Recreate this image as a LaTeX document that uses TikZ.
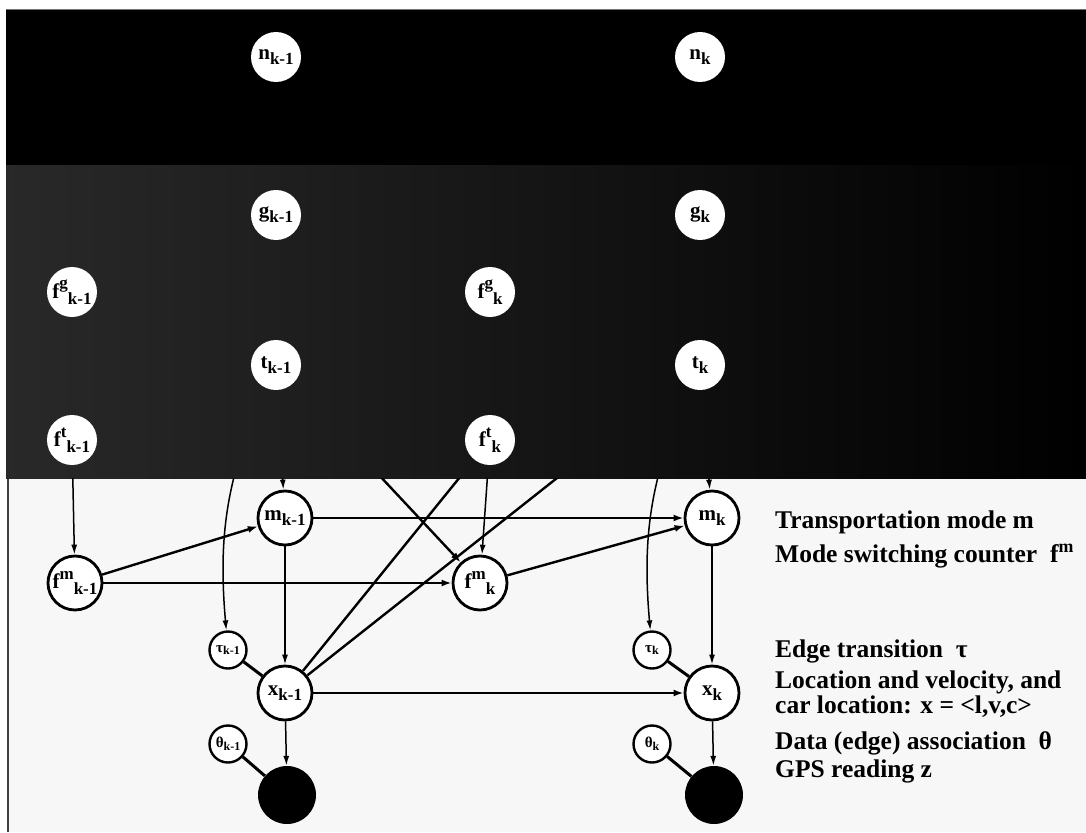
\documentclass[tikz,border=0pt]{standalone}
\usepackage{fontspec}
\setmainfont{Liberation Serif}
\usetikzlibrary{arrows.meta}
% variable labels: letter with subscript, and counter f with super- and subscript
\newcommand{\nlab}[2]{#1\raisebox{-0.5ex}{\fontsize{17}{17}\selectfont #2}}
\newcommand{\fflab}[2]{f\raisebox{1.0ex}{\fontsize{17}{17}\selectfont #1}\raisebox{-0.6ex}{\fontsize{17}{17}\selectfont #2}}
\newcommand{\snlab}[2]{#1\raisebox{-0.4ex}{\fontsize{12}{12}\selectfont #2}}
\begin{document}
\begin{tikzpicture}[x=1pt,y=-1pt,
  topvar/.style={circle,fill=white,minimum size=50pt,inner sep=0pt,font=\fontsize{21}{21}\selectfont\bfseries},
  var/.style={circle,draw=black,line width=2.8pt,fill=white,minimum size=54pt,inner sep=0pt,font=\fontsize{21}{21}\selectfont\bfseries},
  aux/.style={circle,draw=black,line width=2.4pt,fill=white,minimum size=37pt,inner sep=0pt,font=\fontsize{15}{15}\selectfont\bfseries},
  obs/.style={circle,fill=black,minimum size=58pt,inner sep=0pt},
  arr/.style={line width=2.4pt,-{Latex[length=10pt,width=7pt]}},
  thinarr/.style={line width=1.5pt,-{Latex[length=10pt,width=6pt]}},
  tie/.style={line width=3pt},
  legend/.style={anchor=base west,inner sep=0pt,font=\fontsize{25.5}{25.5}\selectfont\bfseries}
]
\useasboundingbox (0,0) rectangle (1086,832);
% paper and frame
\fill[white] (0,0) rectangle (1086,832);
\fill[black!3] (7,478) rectangle (1086,832);
\draw[black!75, line width=2pt] (8,478) -- (8,832);
% dark upper band
\fill[black] (6,10) rectangle (1086,478);
\shade[left color=black!84, middle color=black!76, right color=black] (6,165) rectangle (1086,478);
\draw[black!55, line width=1pt] (6,10) -- (1086,10);

% upper hierarchy
\node[topvar] (nkm1) at (276,57) {\nlab{n}{k-1}};
\node[topvar] (nk) at (700,57) {\nlab{n}{k}};
\node[topvar] (gkm1) at (276,215) {\nlab{g}{k-1}};
\node[topvar] (gk) at (700,215) {\nlab{g}{k}};
\node[topvar] (fgkm1) at (72,292) {\fflab{g}{k-1}};
\node[topvar] (fgk) at (490,292) {\fflab{g}{k}};
\node[topvar] (tkm1) at (276,365) {\nlab{t}{k-1}};
\node[topvar] (tk) at (700,365) {\nlab{t}{k}};
\node[topvar] (ftkm1) at (72,440) {\fflab{t}{k-1}};
\node[topvar] (ftk) at (490,440) {\fflab{t}{k}};

% lower hierarchy
\node[var] (mkm1) at (285,518) {\nlab{m}{k-1}};
\node[var] (mk) at (712,518) {\nlab{m}{k}};
\node[var] (fmkm1) at (75,583) {\fflab{m}{k-1}};
\node[var] (fmk) at (480,583) {\fflab{m}{k}};
\node[aux] (taukm1) at (228,650) {\snlab{τ}{k-1}};
\node[aux] (tauk) at (652,650) {\snlab{τ}{k}};
\node[var] (xkm1) at (285,693) {\nlab{x}{k-1}};
\node[var] (xk) at (712,693) {\nlab{x}{k}};
\node[aux] (thetakm1) at (228,744) {\snlab{θ}{k-1}};
\node[aux] (thetak) at (652,744) {\snlab{θ}{k}};
\node[obs] (zkm1) at (287,795) {};
\node[obs] (zk) at (714,795) {};

% dependencies reaching down out of the dark band
\begin{scope}
  \clip (0,478) rectangle (1086,832);
  \draw[thinarr] (ftkm1) -- (fmkm1);
  \draw[thinarr] (ftk) -- (fmk);
  \draw[thinarr] (tkm1) -- (mkm1);
  \draw[thinarr] (tk) -- (mk);
  \draw[arr] (tkm1) -- (fmk);
  \draw[thinarr] (tkm1) to[out=-114,in=95] (taukm1);
  \draw[thinarr] (tk) to[out=-114,in=95] (tauk);
  \draw[arr] (xkm1) -- (ftk);
  \draw[arr] (xkm1) -- (tk);
\end{scope}

% dependencies among the lower variables
\draw[arr] (fmkm1) -- (mkm1);
\draw[arr] (fmkm1) -- (fmk);
\draw[arr] (mkm1) -- (mk);
\draw[arr] (fmk) -- (mk);
\draw[thinarr] (mkm1) -- (xkm1);
\draw[thinarr] (mk) -- (xk);
\draw[arr] (xkm1) -- (xk);
\draw[thinarr] (xkm1) -- (zkm1);
\draw[thinarr] (xk) -- (zk);
\draw[tie] (taukm1) -- (xkm1);
\draw[tie] (tauk) -- (xk);
\draw[tie] (thetakm1) -- (zkm1);
\draw[tie] (thetak) -- (zk);

% legend
\node[legend] (legm) at (775,528) {Transportation mode m};
\node[legend] (legfm) at (775,562) {Mode switching counter\ \ f\textsuperscript{m}};
\node[legend] (legtau) at (775,657) {Edge transition\ \ τ};
\node[legend] (legx1) at (775,688) {Location and velocity, and};
\node[legend] (legx2) at (775,713) {car location: x = <l,v,c>};
\node[legend] (legtheta) at (775,749) {Data (edge) association\ \ θ};
\node[legend] (legz) at (775,777) {GPS reading z};
\end{tikzpicture}
\end{document}
